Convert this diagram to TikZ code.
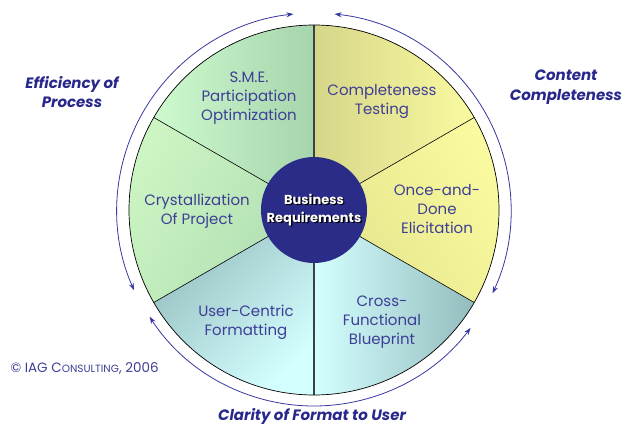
\documentclass[tikz,border=0pt]{standalone}
\usepackage{fontspec}
\setmainfont{Poppins}
\usetikzlibrary{arrows.meta}
\definecolor{txt}{RGB}{62,62,150}
\definecolor{lab}{RGB}{40,40,140}
\definecolor{arc}{RGB}{55,55,160}
\definecolor{hub}{RGB}{43,43,136}
\definecolor{gA}{RGB}{206,250,206}
\definecolor{gB}{RGB}{166,212,172}
\definecolor{gC}{RGB}{205,245,195}
\definecolor{gD}{RGB}{175,222,178}
\definecolor{tD}{RGB}{148,188,190}
\definecolor{tL}{RGB}{212,255,255}
\definecolor{yA}{RGB}{250,250,160}
\definecolor{yB}{RGB}{228,228,140}
\definecolor{kA}{RGB}{214,214,138}
\tikzset{
  wtext/.style={text=txt,align=center,font=\fontsize{15}{19}\selectfont},
  side/.style={text=lab,align=center,font=\fontsize{15}{19.5}\selectfont\bfseries\itshape},
  loop/.style={draw=arc,line width=0.8pt,{Stealth[length=7pt,width=5pt]}-{Stealth[length=7pt,width=5pt]}},
  divider/.style={draw=black,line width=0.6pt},
  vdivider/.style={draw=black!75,line width=1.4pt}
}
\begin{document}
\begin{tikzpicture}[x=1pt,y=1pt]
\useasboundingbox (0,0) rectangle (624,426);
\coordinate (C) at (314,216);
\def\R{185}
% wedges
\shade[left color=gA,right color=gB] (C) -- ++(90:\R) arc[start angle=90,end angle=150,radius=\R] -- cycle;
\shade[top color=gC,bottom color=gD,shading angle=60] (C) -- ++(150:\R) arc[start angle=150,end angle=210,radius=\R] -- cycle;
\shade[top color=tD,bottom color=tL,shading angle=45] (C) -- ++(210:\R) arc[start angle=210,end angle=270,radius=\R] -- cycle;
\shade[left color=tL,right color=tD] (C) -- ++(270:\R) arc[start angle=270,end angle=330,radius=\R] -- cycle;
\shade[top color=yA,bottom color=yB,shading angle=-60] (C) -- ++(-30:\R) arc[start angle=-30,end angle=30,radius=\R] -- cycle;
\shade[left color=kA,right color=yA] (C) -- ++(30:\R) arc[start angle=30,end angle=90,radius=\R] -- cycle;
% dividers
\draw[divider] (C) -- ++(150:\R);
\draw[divider] (C) -- ++(210:\R);
\draw[divider] (C) -- ++(30:\R);
\draw[divider] (C) -- ++(-30:\R);
\draw[vdivider] (C) -- ++(90:\R);
\draw[vdivider] (C) -- ++(270:\R);
\draw[line width=0.7pt] (C) circle[radius=\R];
% hub
\fill[hub] (C) circle[radius=53];
\node[font=\fontsize{13}{18}\selectfont\bfseries,align=center,text=black] at ([shift={(1.3,-1.3)}]C) {Business\\Requirements};
\node (hubtext) [font=\fontsize{13}{18}\selectfont\bfseries,align=center,text=white] at (C) {Business\\Requirements};
% wedge labels
\node (sme) [wtext] at (249,328) {S.M.E.\\Participation\\Optimization};
\node (ct) [wtext] at (382,325) {Completeness\\Testing};
\node (cp) [wtext] at (197,215) {Crystallization\\Of Project};
\node (od) [wtext] at (437,217) {Once-and-\\Done\\Elicitation};
\node (uc) [wtext] at (246,104) {User-Centric\\Formatting};
\node (cf) [wtext] at (382,104) {Cross-\\Functional\\Blueprint};
% surrounding arrows
\draw[loop] ([shift={(204:197)}]C) arc[start angle=204,end angle=96,radius=197];
\draw[loop] ([shift={(84:197)}]C) arc[start angle=84,end angle=-25,radius=197];
\draw[loop] ([shift={(213:196)}]C) arc[start angle=213,end angle=323,radius=196];
% side labels
\node (eff) [side] at (72,334) {Efficiency of\\Process};
\node (cc) [side] at (566,339) {Content\\Completeness};
\node (cl) [side] at (312,10) {Clarity of Format to User};
\node (copy) [text=txt,anchor=west,font=\fontsize{13.5}{15}\selectfont] at (7,58) {© IAG C{\fontsize{10.5}{12}\selectfont ONSULTING}, 2006};
\end{tikzpicture}
\end{document}
